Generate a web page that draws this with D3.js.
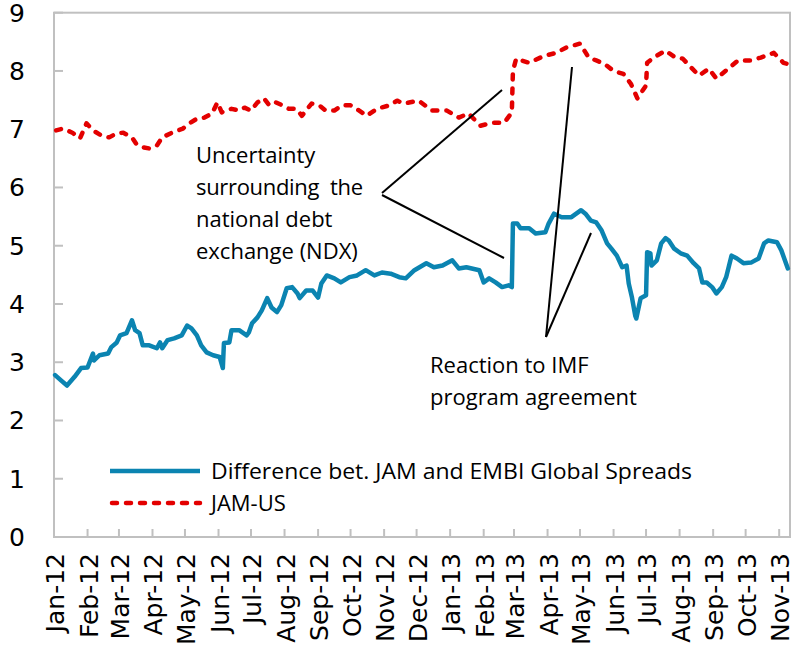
<!DOCTYPE html>
<html>
<head>
<meta charset="utf-8">
<script src="https://cdn.jsdelivr.net/npm/d3@7"></script>
<style>
  html, body { margin: 0; padding: 0; background: #fff; }
  svg { display: block; }
</style>
</head>
<body>
<svg id="chart" width="794" height="651"></svg>
<script>
// ---------- DATA ----------
const spreadDates = [
  "2012-01-02","2012-01-08","2012-01-13","2012-01-20","2012-01-26","2012-02-01","2012-02-06","2012-02-07","2012-02-12","2012-02-20",
  "2012-02-23","2012-02-28","2012-03-02","2012-03-08","2012-03-13","2012-03-16","2012-03-20","2012-03-23","2012-03-29","2012-04-05",
  "2012-04-08","2012-04-10","2012-04-15","2012-04-21","2012-04-28","2012-05-03","2012-05-07","2012-05-12","2012-05-16","2012-05-21",
  "2012-05-27","2012-06-02","2012-06-05","2012-06-06","2012-06-11","2012-06-13","2012-06-20","2012-06-27","2012-06-29","2012-07-02",
  "2012-07-07","2012-07-11","2012-07-16","2012-07-20","2012-07-25","2012-07-29","2012-08-03","2012-08-08","2012-08-13","2012-08-15",
  "2012-08-21","2012-08-27","2012-09-01","2012-09-04","2012-09-09","2012-09-16","2012-09-22","2012-09-30","2012-10-07","2012-10-15",
  "2012-10-23","2012-10-30","2012-11-07","2012-11-15","2012-11-21","2012-11-29","2012-12-10","2012-12-17","2012-12-25","2013-01-03",
  "2013-01-09","2013-01-16","2013-01-21","2013-01-28","2013-02-01","2013-02-06","2013-02-12","2013-02-18","2013-02-24","2013-02-27",
  "2013-02-28","2013-03-04","2013-03-07","2013-03-15","2013-03-21","2013-03-30","2013-04-02","2013-04-07","2013-04-14","2013-04-23",
  "2013-05-02","2013-05-06","2013-05-11","2013-05-16","2013-05-21","2013-05-26","2013-05-30","2013-06-04","2013-06-09","2013-06-13",
  "2013-06-15","2013-06-18","2013-06-21","2013-06-22","2013-06-26","2013-07-01","2013-07-02","2013-07-05","2013-07-06","2013-07-11",
  "2013-07-15","2013-07-19","2013-07-22","2013-07-27","2013-08-02","2013-08-08","2013-08-14","2013-08-19","2013-08-22","2013-08-26",
  "2013-08-31","2013-09-04","2013-09-09","2013-09-13","2013-09-18","2013-09-23","2013-09-29","2013-10-06","2013-10-13","2013-10-18",
  "2013-10-22","2013-10-30","2013-11-03","2013-11-09"
];
const spreadValues = [
  2.78,2.68,2.60,2.75,2.90,2.91,3.15,3.03,3.12,3.15,
  3.26,3.34,3.46,3.50,3.72,3.55,3.50,3.29,3.29,3.24,
  3.34,3.24,3.38,3.41,3.46,3.63,3.58,3.46,3.29,3.17,
  3.12,3.09,2.90,3.33,3.34,3.55,3.55,3.46,3.51,3.67,
  3.77,3.89,4.10,3.94,3.86,3.98,4.27,4.29,4.18,4.10,
  4.23,4.23,4.11,4.35,4.49,4.44,4.37,4.46,4.49,4.58,
  4.49,4.54,4.52,4.46,4.44,4.58,4.70,4.63,4.66,4.75,
  4.61,4.63,4.61,4.58,4.37,4.44,4.37,4.29,4.32,4.29,
  5.38,5.38,5.30,5.30,5.21,5.23,5.38,5.55,5.49,5.49,
  5.61,5.55,5.43,5.40,5.26,5.04,4.95,4.83,4.63,4.66,
  4.35,4.11,3.80,3.75,4.10,4.15,4.89,4.87,4.66,4.75,
  5.04,5.13,5.09,4.95,4.87,4.83,4.70,4.61,4.37,4.37,
  4.29,4.18,4.29,4.46,4.83,4.78,4.70,4.71,4.78,5.04,
  5.09,5.06,4.92,4.61
];

const jamUsDates = [
  "2012-01-03","2012-01-09","2012-01-18","2012-01-25","2012-01-31","2012-02-06","2012-02-14","2012-02-21","2012-02-28","2012-03-05",
  "2012-03-13","2012-03-17","2012-03-23","2012-03-29","2012-04-05","2012-04-10","2012-04-19","2012-04-29","2012-05-05","2012-05-12",
  "2012-05-19","2012-05-26","2012-05-31","2012-06-04","2012-06-13","2012-06-20","2012-06-25","2012-07-01","2012-07-07","2012-07-13",
  "2012-07-18","2012-07-24","2012-07-30","2012-08-05","2012-08-12","2012-08-17","2012-08-26","2012-09-02","2012-09-08","2012-09-16",
  "2012-09-23","2012-10-01","2012-10-09","2012-10-16","2012-10-23","2012-10-29","2012-11-06","2012-11-13","2012-11-19","2012-12-03",
  "2012-12-15","2012-12-29","2013-01-09","2013-01-18","2013-01-29","2013-02-09","2013-02-20","2013-02-27","2013-02-28","2013-03-03",
  "2013-03-15","2013-03-29","2013-04-09","2013-04-18","2013-05-01","2013-05-09","2013-05-16","2013-05-23","2013-06-01","2013-06-10",
  "2013-06-17","2013-06-23","2013-07-01","2013-07-02","2013-07-08","2013-07-19","2013-07-28","2013-08-04","2013-08-10","2013-08-19",
  "2013-08-28","2013-09-04","2013-09-15","2013-09-24","2013-10-06","2013-10-15","2013-10-27","2013-11-05","2013-11-09"
];
const jamUsValues = [
  6.98,7.01,6.94,6.84,7.10,6.98,6.89,6.86,6.93,6.94,
  6.86,6.75,6.69,6.67,6.72,6.86,6.94,7.01,7.10,7.18,
  7.20,7.27,7.46,7.29,7.35,7.32,7.37,7.32,7.46,7.53,
  7.41,7.46,7.41,7.35,7.35,7.23,7.44,7.41,7.32,7.32,
  7.41,7.41,7.32,7.23,7.32,7.37,7.41,7.49,7.44,7.49,
  7.32,7.32,7.20,7.27,7.06,7.11,7.11,7.29,8.00,8.21,
  8.14,8.26,8.31,8.40,8.47,8.23,8.18,8.13,8.00,7.95,
  7.78,7.53,7.75,8.14,8.23,8.35,8.23,8.21,8.09,7.92,
  8.04,7.87,8.04,8.18,8.18,8.23,8.31,8.14,8.12
];

const xTickLabels = ["Jan-12","Feb-12","Mar-12","Apr-12","May-12","Jun-12","Jul-12","Aug-12","Sep-12","Oct-12","Nov-12","Dec-12",
                     "Jan-13","Feb-13","Mar-13","Apr-13","May-13","Jun-13","Jul-13","Aug-13","Sep-13","Oct-13","Nov-13"];
const yTicks = [0,1,2,3,4,5,6,7,8,9];
const seriesNames = ["Difference bet. JAM and EMBI Global Spreads","JAM-US"];
const noteNDX = ["Uncertainty","surrounding  the","national debt","exchange (NDX)"];
const noteIMF = ["Reaction to IMF","program agreement"];

// ---------- DRAW ----------
const svg = d3.select("#chart");
const parseDate = d3.timeParse("%Y-%m-%d");
const parseTick = d3.timeParse("%b-%y");

const x = d3.scaleTime()
  .domain([parseDate("2012-01-01"), parseDate("2013-11-11")])
  .range([54, 790]);
const y = d3.scaleLinear().domain([0, 9]).range([537, 12.7]);

const blue = "#0b84b1";
const red = "#e30000";
const gridCol = "#c0c0c0";
const axisFont = "'DejaVu Sans', sans-serif";
const textFont = "'Open Sans', sans-serif";

// frame
const [x0, x1] = x.range();
const [yb, yt] = y.range();
svg.append("rect").attr("x", x0).attr("y", yt).attr("width", x1 - x0).attr("height", yb - yt)
  .attr("fill", "none").attr("stroke", gridCol).attr("stroke-width", 2);

// y axis ticks (inside)
const yAxis = svg.append("g");
yTicks.forEach(v => {
  yAxis.append("line").attr("x1", x0).attr("x2", x0 + 9).attr("y1", y(v)).attr("y2", y(v))
    .attr("stroke", gridCol).attr("stroke-width", 2);
  yAxis.append("text").attr("x", 25).attr("y", y(v)).attr("dy", "0.36em")
    .attr("text-anchor", "end").attr("font-family", axisFont).attr("font-size", 25)
    .attr("fill", "#000").text(v);
});

// x axis ticks (inside) + rotated labels
const xAxis = svg.append("g");
xTickLabels.forEach(lbl => {
  const d = parseTick(lbl);
  const px = x(d);
  xAxis.append("line").attr("x1", px).attr("x2", px).attr("y1", yb).attr("y2", yb - 8)
    .attr("stroke", gridCol).attr("stroke-width", 2);
  xAxis.append("text")
    .attr("transform", `translate(${px + 1},${yb + 16}) rotate(-90)`)
    .attr("dy", "0.36em").attr("text-anchor", "end")
    .attr("font-family", axisFont).attr("font-size", 25).attr("fill", "#000")
    .text(lbl);
});

// lines
const line = d3.line().x(d => x(d[0])).y(d => y(d[1]));
const spreadData = spreadDates.map((d, i) => [parseDate(d), spreadValues[i]]);
const jamUsData = jamUsDates.map((d, i) => [parseDate(d), jamUsValues[i]]);

svg.append("path").datum(jamUsData).attr("d", line)
  .attr("fill", "none").attr("stroke", red).attr("stroke-width", 4.5)
  .attr("stroke-linecap", "round").attr("stroke-linejoin", "round")
  .attr("stroke-dasharray", "5,9");

svg.append("path").datum(spreadData).attr("d", line)
  .attr("fill", "none").attr("stroke", blue).attr("stroke-width", 4.5)
  .attr("stroke-linecap", "round").attr("stroke-linejoin", "round");

// annotations
const ann = svg.append("g").attr("font-family", textFont).attr("font-size", 22).attr("fill", "#000");
const ndxBase = [163, 195, 227, 259];
noteNDX.forEach((t, i) => {
  const tx = ann.append("text").attr("x", 196).attr("y", ndxBase[i]).attr("xml:space", "preserve").text(t);
  if (i === 1) tx.attr("textLength", 167).attr("lengthAdjust", "spacing");
});
const imfBase = [373, 405];
noteIMF.forEach((t, i) => {
  ann.append("text").attr("x", 430).attr("y", imfBase[i]).text(t);
});

const leaders = svg.append("g").attr("stroke", "#000").attr("stroke-width", 2);
leaders.append("line").attr("x1", 382).attr("y1", 193).attr("x2", 502).attr("y2", 90);
leaders.append("line").attr("x1", 382).attr("y1", 195).attr("x2", 504).attr("y2", 258);
leaders.append("line").attr("x1", 546).attr("y1", 337).attr("x2", 572).attr("y2", 67);
leaders.append("line").attr("x1", 546).attr("y1", 337).attr("x2", 591).attr("y2", 233);

// legend
const leg = svg.append("g");
leg.append("line").attr("x1", 110).attr("x2", 200).attr("y1", 471).attr("y2", 471)
  .attr("stroke", blue).attr("stroke-width", 4.5);
leg.append("line").attr("x1", 112).attr("x2", 200).attr("y1", 503).attr("y2", 503)
  .attr("stroke", red).attr("stroke-width", 4.5).attr("stroke-linecap", "round")
  .attr("stroke-dasharray", "5,9");
leg.append("text").attr("x", 211).attr("y", 479).attr("font-family", textFont).attr("font-size", 22)
  .attr("textLength", 481).attr("lengthAdjust", "spacingAndGlyphs").text(seriesNames[0]);
leg.append("text").attr("x", 211).attr("y", 511).attr("font-family", textFont).attr("font-size", 22)
  .text(seriesNames[1]);
</script>
</body>
</html>
